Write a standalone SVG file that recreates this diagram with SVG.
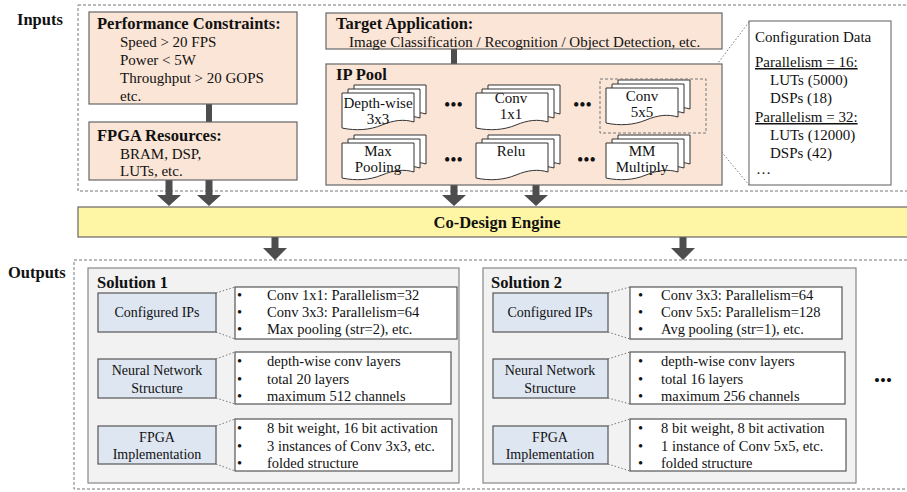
<svg xmlns="http://www.w3.org/2000/svg" width="907" height="492" viewBox="0 0 907 492">
<style>
text{font-family:"Liberation Serif","Times New Roman",serif;fill:#111}
.b{font-weight:bold;font-size:16.5px}
.t{font-size:15px}
.s{font-size:14.5px}
.l{font-size:14px}
.dash{fill:none;stroke:#777;stroke-width:1;stroke-dasharray:3 2}
.pink{fill:#FBE5D6;stroke:#666;stroke-width:1.2}
.blue{fill:#DEE6F1;stroke:#555;stroke-width:1.2}
.sol{fill:#F2F2F2;stroke:#888;stroke-width:1.2}
.white{fill:#fff;stroke:#555;stroke-width:1.2}
.dot{fill:none;stroke:#777;stroke-width:1;stroke-dasharray:1.5 2}
.card{fill:#fff;stroke:#333;stroke-width:1}
.arr{fill:#4d4d4d}
</style>
<defs>
<path id="doc" d="M0,0 H72 V29 C62,26 52,27 40,32 C28,37 14,38 0,35 Z"/>
<g id="stack">
<use href="#doc" x="12" y="-8" class="card"/>
<use href="#doc" x="6" y="-4" class="card"/>
<use href="#doc" x="0" y="0" class="card"/>
</g>
</defs>

<!-- frames -->
<rect class="dash" x="78" y="5" width="832" height="186"/>
<rect class="dash" x="74" y="260" width="836" height="229"/>
<text class="b" x="17" y="25">Inputs</text>
<text class="b" x="8" y="278">Outputs</text>

<!-- connectors -->
<g id="connectors">
<rect class="arr" x="206" y="104" width="6" height="18"/>
<rect class="arr" x="451" y="49" width="6" height="15"/>
<path class="arr" d="M165.5,180 H172.5 V195 H181 L169,206 L157,195 H165.5 Z"/>
<path class="arr" d="M205.5,180 H212.5 V195 H221 L209,206 L197,195 H205.5 Z"/>
<path class="arr" d="M450.5,185 H457.5 V195 H466 L454,206 L442,195 H450.5 Z"/>
<path class="arr" d="M532.5,185 H539.5 V195 H548 L536,206 L524,195 H532.5 Z"/>
<path class="arr" d="M271.5,237 H278.5 V248 H287 L275,260 L263,248 H271.5 Z"/>
<path class="arr" d="M679.5,237 H686.5 V248 H695 L683,260 L671,248 H679.5 Z"/>
<line class="dot" x1="706" y1="79" x2="749" y2="22"/>
<line class="dot" x1="706" y1="133" x2="749" y2="185"/>
</g>

<g id="perf">
<rect class="pink" x="89" y="12" width="208" height="92"/>
<text class="b" x="97" y="29">Performance Constraints:</text>
<text class="t" x="120" y="47">Speed &gt; 20 FPS</text>
<text class="t" x="120" y="65">Power &lt; 5W</text>
<text class="t" x="120" y="83">Throughput &gt; 20 GOPS</text>
<text class="t" x="120" y="101">etc.</text>
</g>

<g id="fpga">
<rect class="pink" x="89" y="122" width="208" height="58"/>
<text class="b" x="97" y="141">FPGA Resources:</text>
<text class="t" x="120" y="159">BRAM, DSP,</text>
<text class="t" x="120" y="176">LUTs, etc.</text>
</g>

<g id="target">
<rect class="pink" x="326" y="13" width="396" height="36"/>
<text class="b" x="336" y="29">Target Application:</text>
<text class="t" x="349" y="47">Image Classification / Recognition / Object Detection, etc.</text>
</g>

<g id="ippool">
<rect class="pink" x="326" y="64" width="396" height="121"/>
<text class="b" x="336" y="80">IP Pool</text>
<use href="#stack" x="342" y="93"/>
<text class="t" x="378" y="108" text-anchor="middle">Depth-wise</text>
<text class="t" x="378" y="124" text-anchor="middle">3x3</text>
<use href="#stack" x="476" y="93"/>
<text class="t" x="511" y="103" text-anchor="middle">Conv</text>
<text class="t" x="511" y="119" text-anchor="middle">1x1</text>
<use href="#stack" x="606" y="88"/>
<text class="t" x="642" y="101" text-anchor="middle">Conv</text>
<text class="t" x="642" y="117" text-anchor="middle">5x5</text>
<rect class="dash" x="600" y="79" width="106" height="54"/>
<use href="#stack" x="342" y="143"/>
<text class="t" x="378" y="156" text-anchor="middle">Max</text>
<text class="t" x="378" y="172" text-anchor="middle">Pooling</text>
<use href="#stack" x="476" y="143"/>
<text class="t" x="511" y="156" text-anchor="middle">Relu</text>
<use href="#stack" x="606" y="143"/>
<text class="t" x="642" y="156" text-anchor="middle">MM</text>
<text class="t" x="642" y="172" text-anchor="middle">Multiply</text>
<text x="444" y="111" style="font-size:18px">•••</text>
<text x="573" y="111" style="font-size:18px">•••</text>
<text x="444" y="166" style="font-size:18px">•••</text>
<text x="577" y="166" style="font-size:18px">•••</text>
</g>

<g id="config">
<rect class="white" x="749" y="21" width="142" height="164" style="stroke:#777"/>
<text class="t" x="755" y="42">Configuration Data</text>
<text class="t" x="755" y="67" text-decoration="underline">Parallelism = 16:</text>
<text class="t" x="770" y="85">LUTs (5000)</text>
<text class="t" x="770" y="103">DSPs (18)</text>
<text class="t" x="755" y="122" text-decoration="underline">Parallelism = 32:</text>
<text class="t" x="770" y="140">LUTs (12000)</text>
<text class="t" x="770" y="158">DSPs (42)</text>
<text class="t" x="756" y="174">…</text>
</g>

<g id="engine">
<rect x="78" y="207" width="832" height="30" style="fill:#FFF6A5;stroke:#666;stroke-width:1.2"/>
<text class="b" x="497" y="228" text-anchor="middle">Co-Design Engine</text>
</g>

<g id="solution1">
<rect class="sol" x="88" y="268" width="371" height="215"/>
<text class="b" x="97" y="288">Solution 1</text>
<rect class="blue" x="98" y="293" width="118" height="39"/>
<text class="l" x="157" y="317" text-anchor="middle">Configured IPs</text>
<rect class="white" x="235" y="287" width="222" height="52"/>
<line class="dot" x1="216" y1="293" x2="235" y2="287"/>
<line class="dot" x1="216" y1="332" x2="235" y2="339"/>
<text class="s" x="237" y="300">•</text><text class="s" x="267" y="300">Conv 1x1: Parallelism=32</text>
<text class="s" x="237" y="317">•</text><text class="s" x="267" y="317">Conv 3x3: Parallelism=64</text>
<text class="s" x="237" y="334">•</text><text class="s" x="267" y="334">Max pooling (str=2), etc.</text>

<rect class="blue" x="98" y="359" width="118" height="39"/>
<text class="l" x="157" y="375" text-anchor="middle">Neural Network</text>
<text class="l" x="157" y="393" text-anchor="middle">Structure</text>
<rect class="white" x="235" y="352" width="216" height="52"/>
<line class="dot" x1="216" y1="359" x2="235" y2="352"/>
<line class="dot" x1="216" y1="398" x2="235" y2="404"/>
<text class="s" x="237" y="366">•</text><text class="s" x="267" y="366">depth-wise conv layers</text>
<text class="s" x="237" y="384">•</text><text class="s" x="267" y="384">total 20 layers</text>
<text class="s" x="237" y="401">•</text><text class="s" x="267" y="401">maximum 512 channels</text>

<rect class="blue" x="98" y="426" width="118" height="38"/>
<text class="l" x="157" y="442" text-anchor="middle">FPGA</text>
<text class="l" x="157" y="459" text-anchor="middle">Implementation</text>
<rect class="white" x="235" y="419" width="217" height="52"/>
<line class="dot" x1="216" y1="426" x2="235" y2="419"/>
<line class="dot" x1="216" y1="464" x2="235" y2="471"/>
<text class="s" x="237" y="433">•</text><text class="s" x="267" y="433">8 bit weight, 16 bit activation</text>
<text class="s" x="237" y="451">•</text><text class="s" x="267" y="451">3 instances of Conv 3x3, etc.</text>
<text class="s" x="237" y="468">•</text><text class="s" x="267" y="468">folded structure</text>
</g>

<g id="solution2">
<rect class="sol" x="483" y="268" width="373" height="215"/>
<text class="b" x="491" y="288">Solution 2</text>
<rect class="blue" x="493" y="293" width="115" height="39"/>
<text class="l" x="550" y="317" text-anchor="middle">Configured IPs</text>
<rect class="white" x="630" y="287" width="212" height="52"/>
<line class="dot" x1="608" y1="293" x2="630" y2="287"/>
<line class="dot" x1="608" y1="332" x2="630" y2="339"/>
<text class="s" x="638" y="300">•</text><text class="s" x="661" y="300">Conv 3x3: Parallelism=64</text>
<text class="s" x="638" y="317">•</text><text class="s" x="661" y="317">Conv 5x5: Parallelism=128</text>
<text class="s" x="638" y="334">•</text><text class="s" x="661" y="334">Avg pooling (str=1), etc.</text>

<rect class="blue" x="493" y="359" width="115" height="39"/>
<text class="l" x="550" y="375" text-anchor="middle">Neural Network</text>
<text class="l" x="550" y="393" text-anchor="middle">Structure</text>
<rect class="white" x="630" y="352" width="215" height="52"/>
<line class="dot" x1="608" y1="359" x2="630" y2="352"/>
<line class="dot" x1="608" y1="398" x2="630" y2="404"/>
<text class="s" x="638" y="366">•</text><text class="s" x="661" y="366">depth-wise conv layers</text>
<text class="s" x="638" y="384">•</text><text class="s" x="661" y="384">total 16 layers</text>
<text class="s" x="638" y="401">•</text><text class="s" x="661" y="401">maximum 256 channels</text>

<rect class="blue" x="493" y="426" width="115" height="38"/>
<text class="l" x="550" y="442" text-anchor="middle">FPGA</text>
<text class="l" x="550" y="459" text-anchor="middle">Implementation</text>
<rect class="white" x="630" y="419" width="216" height="52"/>
<line class="dot" x1="608" y1="426" x2="630" y2="419"/>
<line class="dot" x1="608" y1="464" x2="630" y2="471"/>
<text class="s" x="638" y="433">•</text><text class="s" x="661" y="433">8 bit weight, 8 bit activation</text>
<text class="s" x="638" y="451">•</text><text class="s" x="661" y="451">1 instance of Conv 5x5, etc.</text>
<text class="s" x="638" y="468">•</text><text class="s" x="661" y="468">folded structure</text>
</g>

<text x="874" y="386" style="font-size:17px">•••</text>
</svg>
